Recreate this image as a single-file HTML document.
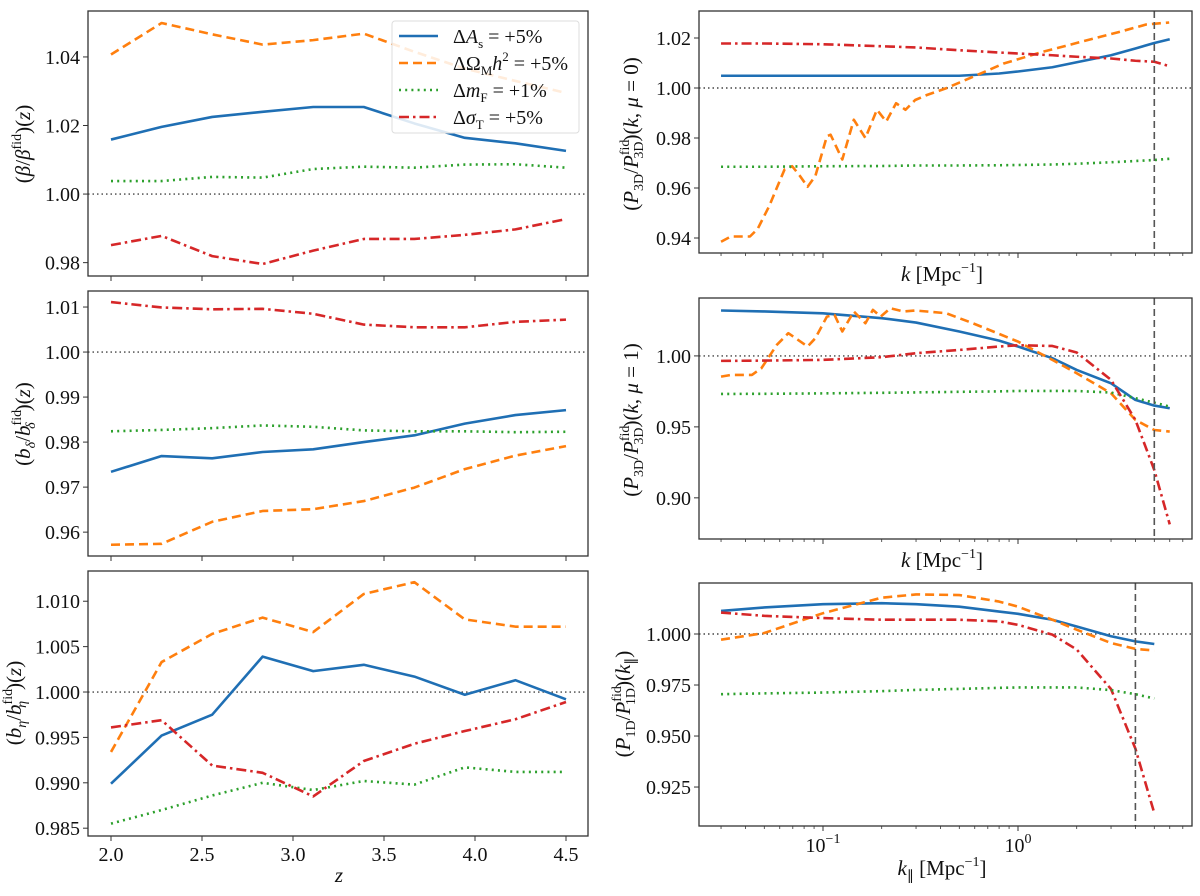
<!DOCTYPE html>
<html><head><meta charset="utf-8"><style>
html,body{margin:0;padding:0;background:#fff;}
svg{display:block;}
svg text{font-family:"Liberation Serif","Times New Roman",serif;}
</style></head><body>
<svg id="fig" width="1200" height="896" viewBox="0 0 1200 896" xmlns="http://www.w3.org/2000/svg" font-family="Liberation Serif, serif"></svg>
<script>
// ---------- data ----------
const zVals = [2.0, 2.278, 2.556, 2.833, 3.111, 3.389, 3.667, 3.944, 4.222, 4.5];
const betaAs = [1.0159, 1.0196, 1.0225, 1.0240, 1.0254, 1.0254, 1.0206, 1.0164, 1.0148, 1.0126];
const betaOm = [1.0407, 1.0499, 1.0466, 1.0436, 1.0449, 1.0468, 1.0415, 1.0366, 1.0330, 1.0295];
const betaMf = [1.0038, 1.0038, 1.0050, 1.0048, 1.0073, 1.0080, 1.0077, 1.0086, 1.0087, 1.0077];
const betaSt = [0.9851, 0.9878, 0.9819, 0.9796, 0.9835, 0.9869, 0.9869, 0.9881, 0.9897, 0.9927];

const bdAs = [0.9734, 0.9769, 0.9764, 0.9778, 0.9784, 0.9800, 0.9815, 0.9841, 0.9860, 0.9871];
const bdOm = [0.9572, 0.9574, 0.9623, 0.9647, 0.9651, 0.9669, 0.9699, 0.9740, 0.9770, 0.9791];
const bdMf = [0.9824, 0.9827, 0.9831, 0.9837, 0.9834, 0.9826, 0.9824, 0.9824, 0.9822, 0.9823];
const bdSt = [1.0111, 1.0099, 1.0095, 1.0096, 1.0085, 1.0061, 1.0055, 1.0055, 1.0067, 1.0072];

const beAs = [0.9899, 0.9952, 0.9975, 1.0039, 1.0023, 1.0030, 1.0017, 0.9997, 1.0013, 0.9992];
const beOm = [0.9934, 1.0033, 1.0064, 1.0082, 1.0066, 1.0108, 1.0121, 1.0080, 1.0072, 1.0072];
const beMf = [0.9855, 0.9870, 0.9886, 0.9900, 0.9892, 0.9902, 0.9898, 0.9917, 0.9912, 0.9912];
const beSt = [0.9961, 0.9969, 0.9919, 0.9911, 0.9885, 0.9924, 0.9943, 0.9957, 0.9970, 0.9989];

const kGrid = [0.03, 0.05, 0.1, 0.2, 0.3, 0.5, 0.8, 1, 1.5, 2, 3, 4, 5, 6];
const p0As = [1.0049, 1.0049, 1.0049, 1.0049, 1.0049, 1.0049, 1.0058, 1.0066, 1.0083, 1.0103, 1.0131, 1.0158, 1.0180, 1.0195];
const p0St = [1.0178, 1.0178, 1.0175, 1.0167, 1.0162, 1.0151, 1.0142, 1.0138, 1.0131, 1.0125, 1.0118, 1.0109, 1.0105, 1.0087];
const p0Mf = [0.9685, 0.9685, 0.9687, 0.9688, 0.9690, 0.9690, 0.9691, 0.9692, 0.9694, 0.9697, 0.9703, 0.9708, 0.9712, 0.9717];
const p0OmK = [0.030, 0.0337, 0.0422, 0.0462, 0.053, 0.0635, 0.0695, 0.0762, 0.0834, 0.0914, 0.1047, 0.1094, 0.1256, 0.1439, 0.165, 0.189, 0.211, 0.237, 0.265, 0.297, 0.341, 0.428, 0.601, 0.845, 1.33, 2.09, 3.30, 4.54, 5.96];
const p0Om = [0.9385, 0.9406, 0.9406, 0.9436, 0.9528, 0.9674, 0.9687, 0.9648, 0.9605, 0.9648, 0.9807, 0.9813, 0.9714, 0.9873, 0.9800, 0.9913, 0.9866, 0.9939, 0.9913, 0.9952, 0.9972, 0.9999, 1.0048, 1.0098, 1.0144, 1.0184, 1.0224, 1.0254, 1.0262];

const p1As = [1.0320, 1.0313, 1.0300, 1.0266, 1.0235, 1.0172, 1.0108, 1.0066, 0.9984, 0.9901, 0.9807, 0.9690, 0.9650, 0.9631];
const p1St = [0.9965, 0.9967, 0.9972, 0.9991, 1.0019, 1.0042, 1.0066, 1.0075, 1.0070, 1.0024, 0.9831, 0.9549, 0.9196, 0.8813];
const p1Mf = [0.9732, 0.9733, 0.9736, 0.9740, 0.9743, 0.9747, 0.9750, 0.9753, 0.9753, 0.9753, 0.9742, 0.9702, 0.9671, 0.9643];
const p1OmK = [0.030, 0.0337, 0.0432, 0.0483, 0.058, 0.0664, 0.0834, 0.0914, 0.1047, 0.1146, 0.1256, 0.1439, 0.165, 0.1803, 0.1977, 0.2213, 0.2594, 0.297, 0.428, 0.587, 1, 1.5, 2, 3, 4, 5, 6];
const p1Om = [0.9854, 0.9866, 0.9866, 0.9913, 1.0078, 1.0160, 1.0066, 1.0125, 1.0277, 1.0289, 1.0172, 1.0313, 1.0230, 1.0324, 1.0277, 1.0336, 1.0313, 1.0320, 1.0301, 1.0230, 1.0101, 0.9972, 0.9878, 0.9737, 0.9549, 0.9478, 0.9467];

const kGrid1D = [0.03, 0.05, 0.1, 0.2, 0.3, 0.5, 0.8, 1, 1.5, 2, 3, 4, 5];
const p1dAs = [1.0113, 1.0130, 1.0146, 1.0151, 1.0146, 1.0134, 1.0110, 1.0099, 1.0070, 1.0037, 0.9989, 0.9964, 0.9951];
const p1dOm = [0.9972, 1.0005, 1.0102, 1.0178, 1.0194, 1.0191, 1.0159, 1.0134, 1.0070, 1.0021, 0.9956, 0.9927, 0.9919];
const p1dSt = [1.0105, 1.0089, 1.0078, 1.0070, 1.0070, 1.0070, 1.0062, 1.0045, 0.9997, 0.9924, 0.9730, 0.9438, 0.9122];
const p1dMf = [0.9705, 0.9709, 0.9713, 0.9720, 0.9726, 0.9731, 0.9736, 0.9738, 0.9738, 0.9738, 0.9725, 0.9705, 0.9684];

const zTicks = [2.0, 2.5, 3.0, 3.5, 4.0, 4.5];
const zTickLabels = ["2.0", "2.5", "3.0", "3.5", "4.0", "4.5"];
const yTicksBeta = [0.98, 1.00, 1.02, 1.04];
const yTicksBd = [0.96, 0.97, 0.98, 0.99, 1.00, 1.01];
const yTicksBe = [0.985, 0.990, 0.995, 1.000, 1.005, 1.010];
const yTicksP0 = [0.94, 0.96, 0.98, 1.00, 1.02];
const yTicksP1 = [0.90, 0.95, 1.00];
const yTicksP1d = [0.925, 0.950, 0.975, 1.000];

// ---------- drawing ----------
const NS = "http://www.w3.org/2000/svg";
const svg = document.getElementById("fig");
const COL = {as: "#1f6fb4", om: "#ff7f0e", mf: "#2ca02c", st: "#d62728"};
const DASH = {as: "", om: "9,5", mf: "2,4.2", st: "10,4,2.5,4"};
const FS = 20;

function mk(tag, attrs, parent) {
  const e = document.createElementNS(NS, tag);
  for (const k in attrs) e.setAttribute(k, attrs[k]);
  (parent || svg).appendChild(e);
  return e;
}

function makeAxes(name, box, xmin, xmax, ymin, ymax, logx) {
  const g = mk("g", {});
  
  
  const fx = logx
    ? v => box.x0 + (Math.log10(v) - Math.log10(xmin)) / (Math.log10(xmax) - Math.log10(xmin)) * (box.x1 - box.x0)
    : v => box.x0 + (v - xmin) / (xmax - xmin) * (box.x1 - box.x0);
  const fy = v => box.y1 - (v - ymin) / (ymax - ymin) * (box.y1 - box.y0);
  return {g, fx, fy, box};
}

function drawFrame(ax) {
  const b = ax.box;
  const r = mk("rect", {x: b.x0, y: b.y0, width: b.x1 - b.x0, height: b.y1 - b.y0, fill: "none", stroke: "#333", "stroke-width": 1.3}, ax.g);
  
  
}

function refLine(ax) {
  const y = ax.fy(1.0);
  const l = mk("line", {x1: ax.box.x0, x2: ax.box.x1, y1: y, y2: y, stroke: "#444", "stroke-width": 1.4, "stroke-dasharray": "1.5,3"}, ax.g);
  
  
}

function yTicks(ax, ticks, decimals) {
  ticks.forEach(t => {
    const y = ax.fy(t);
    const tl = mk("line", {x1: ax.box.x0 - 5, x2: ax.box.x0, y1: y, y2: y, stroke: "#333", "stroke-width": 1}, ax.g);
    
    
    const tx = mk("text", {x: ax.box.x0 - 8, y: y + 7, "text-anchor": "end", "font-size": FS, fill: "#111"}, ax.g);
    tx.textContent = t.toFixed(decimals);
    
    
  });
}

function zTicksDraw(ax, labels) {
  zTicks.forEach((t, i) => {
    const x = ax.fx(t);
    const tl = mk("line", {x1: x, x2: x, y1: ax.box.y1, y2: ax.box.y1 + 5, stroke: "#333", "stroke-width": 1}, ax.g);
    
    
    if (labels) {
      const tx = mk("text", {x: x, y: ax.box.y1 + 25, "text-anchor": "middle", "font-size": FS, fill: "#111"}, ax.g);
      tx.textContent = zTickLabels[i];
      
      
    }
  });
}

function logTicks(ax, labels) {
  for (let d = -2; d <= 0; d++) {
    for (let m = 1; m <= 9; m++) {
      const v = m * Math.pow(10, d);
      const x = ax.fx(v);
      if (x < ax.box.x0 - 0.5 || x > ax.box.x1 + 0.5) continue;
      const len = m === 1 ? 5 : 3;
      const tl = mk("line", {x1: x, x2: x, y1: ax.box.y1, y2: ax.box.y1 + len, stroke: "#333", "stroke-width": m === 1 ? 1 : 0.8}, ax.g);
      
      
      if (labels && m === 1 && d >= -1) {
        const tx = mk("text", {x: x, y: ax.box.y1 + 26, "text-anchor": "middle", "font-size": FS, fill: "#111"}, ax.g);
        tx.innerHTML = '10<tspan dy="-9" font-size="14">' + (d === 0 ? '0' : '\u22121') + '</tspan>';
        
        
      }
    }
  }
}

function series(ax, xs, ys, key, name) {
  const pts = xs.map((x, i) => ax.fx(x).toFixed(2) + "," + ax.fy(ys[i]).toFixed(2)).join(" ");
  const a = {points: pts, fill: "none", stroke: COL[key], "stroke-width": 2.6, "stroke-linejoin": "round"};
  if (DASH[key]) a["stroke-dasharray"] = DASH[key];
  const p = mk("polyline", a, ax.g);
  
  
}

function vLine(ax, k) {
  const x = ax.fx(k);
  const l = mk("line", {x1: x, x2: x, y1: ax.box.y0, y2: ax.box.y1, stroke: "#555", "stroke-width": 1.6, "stroke-dasharray": "7,4"}, ax.g);
  
  
}

function yLabel(cx, cy, html, name) {
  const t = mk("text", {x: 0, y: 0, "text-anchor": "middle", "font-size": 21, fill: "#111", transform: "translate(" + cx + "," + cy + ") rotate(-90)"});
  t.innerHTML = html;
  
  
}
function xLabel(cx, cy, html, name) {
  const t = mk("text", {x: cx, y: cy, "text-anchor": "middle", "font-size": 21, fill: "#111"});
  t.innerHTML = html;
  
  
}

const zmin = 2.0 - 23 / 182, zmax = 4.5 + 22 / 182;
const kmin = Math.pow(10, -1 - 124 / 195), kmax = Math.pow(10, 174 / 195);

let A = makeAxes("panel-beta", {x0: 88, x1: 588, y0: 11, y1: 276}, zmin, zmax, 0.9761, 1.0534, false);
refLine(A);
series(A, zVals, betaAs, "as", "line-delta-as");
series(A, zVals, betaOm, "om", "line-delta-omega-m");
series(A, zVals, betaMf, "mf", "line-delta-mf");
series(A, zVals, betaSt, "st", "line-delta-sigma-t");
drawFrame(A); yTicks(A, yTicksBeta, 2); zTicksDraw(A, false);
yLabel(30, 144, '(<tspan font-style="italic">β</tspan>/<tspan font-style="italic">β</tspan><tspan dy="-9" font-size="14">fid</tspan><tspan dy="9">)(</tspan><tspan font-style="italic">z</tspan>)', "y-axis-title-beta");

A = makeAxes("panel-b-delta", {x0: 88, x1: 588, y0: 291, y1: 556}, zmin, zmax, 0.9547, 1.01356, false);
refLine(A);
series(A, zVals, bdAs, "as", "line-delta-as");
series(A, zVals, bdOm, "om", "line-delta-omega-m");
series(A, zVals, bdMf, "mf", "line-delta-mf");
series(A, zVals, bdSt, "st", "line-delta-sigma-t");
drawFrame(A); yTicks(A, yTicksBd, 2); zTicksDraw(A, false);
yLabel(30, 424, '(<tspan font-style="italic">b</tspan><tspan dy="5" font-size="14" font-style="italic">δ</tspan><tspan dy="-5">/</tspan><tspan font-style="italic">b</tspan><tspan dy="-9" font-size="14">fid</tspan><tspan dx="-19" dy="14" font-size="14" font-style="italic">δ</tspan><tspan dx="11" dy="-5">)(</tspan><tspan font-style="italic">z</tspan>)', "y-axis-title-b-delta");

A = makeAxes("panel-b-eta", {x0: 88, x1: 588, y0: 571, y1: 836}, zmin, zmax, 0.98414, 1.01333, false);
refLine(A);
series(A, zVals, beAs, "as", "line-delta-as");
series(A, zVals, beOm, "om", "line-delta-omega-m");
series(A, zVals, beMf, "mf", "line-delta-mf");
series(A, zVals, beSt, "st", "line-delta-sigma-t");
drawFrame(A); yTicks(A, yTicksBe, 3); zTicksDraw(A, true);
yLabel(21, 703, '(<tspan font-style="italic">b</tspan><tspan dy="5" font-size="14" font-style="italic">η</tspan><tspan dy="-5">/</tspan><tspan font-style="italic">b</tspan><tspan dy="-9" font-size="14">fid</tspan><tspan dx="-19" dy="14" font-size="14" font-style="italic">η</tspan><tspan dx="11" dy="-5">)(</tspan><tspan font-style="italic">z</tspan>)', "y-axis-title-b-eta");
xLabel(339, 882, '<tspan font-style="italic">z</tspan>', "x-axis-title-z");

A = makeAxes("panel-p3d-mu0", {x0: 699, x1: 1192, y0: 11, y1: 253}, kmin, kmax, 0.934, 1.0308, true);
refLine(A);
series(A, kGrid, p0As, "as", "line-delta-as");
series(A, p0OmK, p0Om, "om", "line-delta-omega-m");
series(A, kGrid, p0Mf, "mf", "line-delta-mf");
series(A, kGrid, p0St, "st", "line-delta-sigma-t");
vLine(A, 5);
drawFrame(A); yTicks(A, yTicksP0, 2); logTicks(A, false);
yLabel(638, 134, '(<tspan font-style="italic">P</tspan><tspan dy="5" font-size="14">3D</tspan><tspan dy="-5">/</tspan><tspan font-style="italic">P</tspan><tspan dy="-9" font-size="14">fid</tspan><tspan dx="-19" dy="14" font-size="14">3D</tspan><tspan dy="-5">)(</tspan><tspan font-style="italic">k</tspan>, <tspan font-style="italic">μ</tspan> = 0)', "y-axis-title-p3d-mu0");
xLabel(942, 281, '<tspan font-style="italic">k</tspan> [Mpc<tspan dy="-9" font-size="14">−1</tspan><tspan dy="9">]</tspan>', "x-axis-title-k");

A = makeAxes("panel-p3d-mu1", {x0: 699, x1: 1192, y0: 298, y1: 539}, kmin, kmax, 0.871, 1.0408, true);
refLine(A);
series(A, kGrid, p1As, "as", "line-delta-as");
series(A, p1OmK, p1Om, "om", "line-delta-omega-m");
series(A, kGrid, p1Mf, "mf", "line-delta-mf");
series(A, kGrid, p1St, "st", "line-delta-sigma-t");
vLine(A, 5);
drawFrame(A); yTicks(A, yTicksP1, 2); logTicks(A, false);
yLabel(638, 420, '(<tspan font-style="italic">P</tspan><tspan dy="5" font-size="14">3D</tspan><tspan dy="-5">/</tspan><tspan font-style="italic">P</tspan><tspan dy="-9" font-size="14">fid</tspan><tspan dx="-19" dy="14" font-size="14">3D</tspan><tspan dy="-5">)(</tspan><tspan font-style="italic">k</tspan>, <tspan font-style="italic">μ</tspan> = 1)', "y-axis-title-p3d-mu1");
xLabel(942, 567, '<tspan font-style="italic">k</tspan> [Mpc<tspan dy="-9" font-size="14">−1</tspan><tspan dy="9">]</tspan>', "x-axis-title-k-mid");

A = makeAxes("panel-p1d", {x0: 699, x1: 1192, y0: 583, y1: 826}, kmin, kmax, 0.9059, 1.025, true);
refLine(A);
series(A, kGrid1D, p1dAs, "as", "line-delta-as");
series(A, kGrid1D, p1dOm, "om", "line-delta-omega-m");
series(A, kGrid1D, p1dSt, "st", "line-delta-sigma-t");
series(A, kGrid1D, p1dMf, "mf", "line-delta-mf");
vLine(A, 4);
drawFrame(A); yTicks(A, yTicksP1d, 3); logTicks(A, true);
yLabel(630, 704, '(<tspan font-style="italic">P</tspan><tspan dy="5" font-size="14">1D</tspan><tspan dy="-5">/</tspan><tspan font-style="italic">P</tspan><tspan dy="-9" font-size="14">fid</tspan><tspan dx="-19" dy="14" font-size="14">1D</tspan><tspan dy="-5">)(</tspan><tspan font-style="italic">k</tspan><tspan dy="5" font-size="14">∥</tspan><tspan dy="-5">)</tspan>', "y-axis-title-p1d");
xLabel(942, 875, '<tspan font-style="italic">k</tspan><tspan dy="5" font-size="14">∥</tspan><tspan dy="-5"> [Mpc</tspan><tspan dy="-9" font-size="14">−1</tspan><tspan dy="9">]</tspan>', "x-axis-title-k-parallel");

const lg = mk("g", {});


mk("rect", {x: 392, y: 21, width: 187, height: 112, rx: 3, fill: "#fff", "fill-opacity": 0.85, stroke: "#ddd", "stroke-width": 1}, lg);
const legKeys = ["as", "om", "mf", "st"];
const legText = [
  'Δ<tspan font-style="italic">A</tspan><tspan dy="5" font-size="13">s</tspan><tspan dy="-5"> = +5%</tspan>',
  'ΔΩ<tspan dy="5" font-size="13">M</tspan><tspan dy="-5" font-style="italic">h</tspan><tspan dy="-9" font-size="13">2</tspan><tspan dy="9"> = +5%</tspan>',
  'Δ<tspan font-style="italic">m</tspan><tspan dy="5" font-size="13">F</tspan><tspan dy="-5"> = +1%</tspan>',
  'Δ<tspan font-style="italic">σ</tspan><tspan dy="5" font-size="13">T</tspan><tspan dy="-5"> = +5%</tspan>'
];
legKeys.forEach((k, i) => {
  const y = 36 + i * 27;
  const e = mk("g", {}, lg);
  
  
  const a = {x1: 399, x2: 438, y1: y, y2: y, stroke: COL[k], "stroke-width": 2.6};
  if (DASH[k]) a["stroke-dasharray"] = DASH[k];
  mk("line", a, e);
  const t = mk("text", {x: 453, y: y + 7, "font-size": 20, fill: "#111"}, e);
  t.innerHTML = legText[i];
});
</script>
</body></html>
